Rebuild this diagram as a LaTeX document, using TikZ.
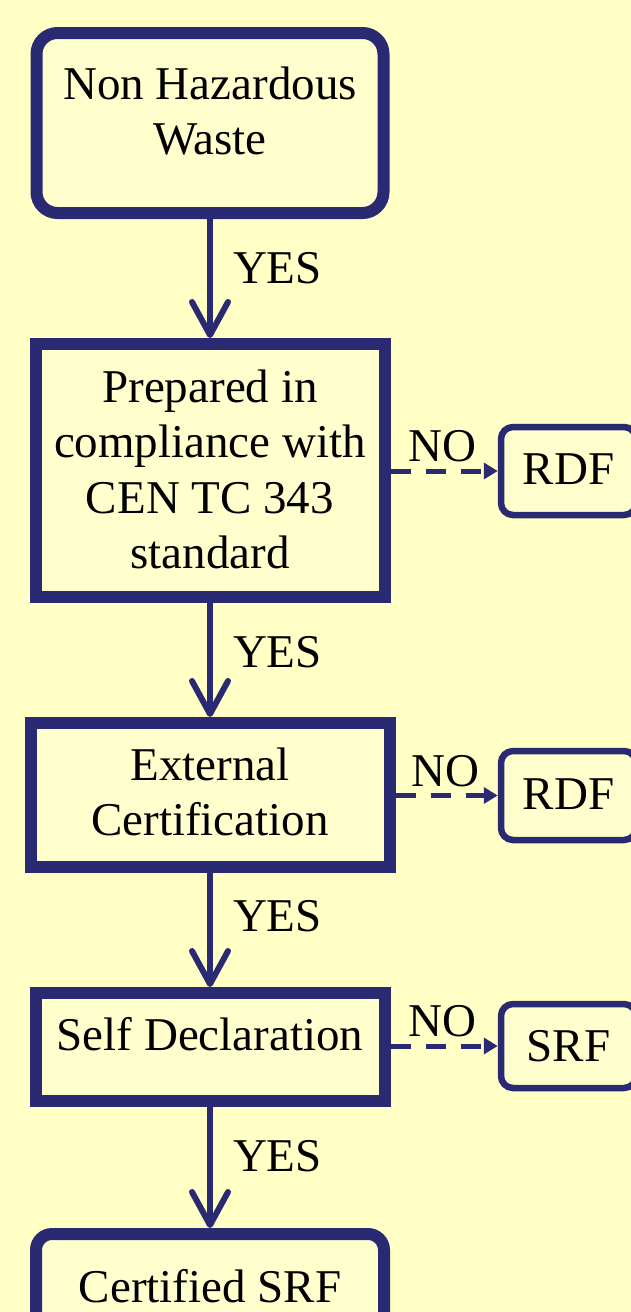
\documentclass[tikz,border=0pt]{standalone}
\usepackage{fontspec}
\setmainfont{Liberation Serif}
\usetikzlibrary{arrows.meta}
\definecolor{navy}{RGB}{42,42,115}
\definecolor{bgyellow}{RGB}{255,255,198}
\definecolor{boxfill}{RGB}{255,255,206}
\newcommand\topstrut[1]{\rule{0pt}{#1}}
\newcommand\botstrut[1]{\rule[-#1]{0pt}{#1}}
\begin{document}
\begin{tikzpicture}[x=1pt,y=-1pt,
  every node/.style={font=\fontsize{47}{55.5}\selectfont, inner sep=0pt, outer sep=0pt},
  mainbox/.style={draw=navy, fill=boxfill, line width=12pt, align=center},
  sidebox/.style={draw=navy, fill=boxfill, line width=6.5pt, rounded corners=12pt,
    minimum width=135pt, align=center},
  yesarrow/.style={draw=navy, line width=6pt,
    -{Straight Barb[length=33pt, width=36pt, round]}, shorten >=6pt},
  yeslabel/.style={midway, anchor=base west, xshift=23pt},
  noarrow/.style={draw=navy, line width=5pt, dash pattern=on 20pt off 15pt,
    -{Triangle[length=14pt, width=16pt]}, shorten <=6pt, shorten >=3.25pt},
  nolabel/.style={midway, anchor=base, yshift=9.5pt}
]
\useasboundingbox (0,0) rectangle (631,1312);
\clip (0,0) rectangle (631,1312);
\fill[bgyellow] (0,0) rectangle (631,1312);

% main column
\node[mainbox, rounded corners=21pt, minimum width=347pt, minimum height=180pt] (b1) at (210,123)
  {\topstrut{40pt}Non Hazardous\\Waste\botstrut{32pt}};
\node[mainbox, minimum width=349pt, minimum height=253pt] (b2) at (210,470.5)
  {\topstrut{45pt}Prepared in\\compliance with\\CEN TC 343\\standard\botstrut{15.5pt}};
\node[mainbox, minimum width=359pt, minimum height=144pt] (b3) at (210,795)
  {\topstrut{40pt}External\\Certification\botstrut{14.5pt}};
\node[mainbox, minimum width=349pt, minimum height=108pt] (b4) at (210,1047)
  {\topstrut{40pt}Self Declaration\botstrut{34pt}};
\node[mainbox, rounded corners=16pt, minimum width=348pt, minimum height=136pt] (b5) at (210,1302)
  {\topstrut{40pt}Certified SRF\botstrut{40pt}};

% side boxes
\node[sidebox, minimum height=88pt] (r1) at (568.5,471) {\topstrut{36pt}RDF\botstrut{10pt}};
\node[sidebox, minimum height=89pt] (r2) at (568.5,795.5) {\topstrut{36pt}RDF\botstrut{9pt}};
\node[sidebox, minimum height=84pt] (r3) at (568.5,1046) {\topstrut{38pt}SRF\botstrut{8pt}};

% YES connectors
\draw[yesarrow] (b1.south) -- (b2.north) node[yeslabel, yshift=-4.5pt] (y1) {YES};
\draw[yesarrow] (b2.south) -- (b3.north) node[yeslabel, yshift=-7pt] (y2) {YES};
\draw[yesarrow] (b3.south) -- (b4.north) node[yeslabel, yshift=-1pt] (y3) {YES};
\draw[yesarrow] (b4.south) -- (b5.north) node[yeslabel, yshift=-3.5pt] (y4) {YES};

% NO connectors
\draw[noarrow] (b2.east |- r1.west) -- (r1.west) node[nolabel] (n1) {NO};
\draw[noarrow] (b3.east |- r2.west) -- (r2.west) node[nolabel] (n2) {NO};
\draw[noarrow] (b4.east |- r3.west) -- (r3.west) node[nolabel] (n3) {NO};
\end{tikzpicture}
\end{document}
